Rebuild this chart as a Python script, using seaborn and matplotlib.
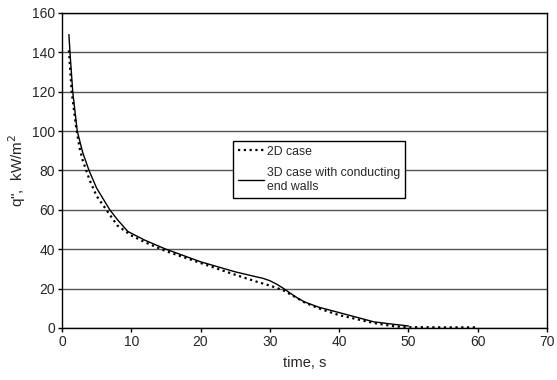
import matplotlib
matplotlib.use("Agg")
import matplotlib.pyplot as plt
from matplotlib.lines import Line2D
import seaborn as sns
import pandas as pd

# Heat flux decay, 2D model
t_2d = [1, 1.4, 2, 2.5, 3, 4, 5, 6.4, 8, 10, 12, 15, 20, 25, 28, 30, 31, 32, 33, 34, 35, 37, 40, 45, 48, 50, 55, 60]
q_2d = [141, 120, 103, 92, 85, 75, 67, 60, 52, 47, 43.5, 39, 33, 27, 23.6, 21.5, 20.3, 19, 17, 15, 13, 10, 6.5, 2.5, 0.8, 0.4, 0.3, 0.3]

# Heat flux decay, 3D model with conducting end walls
t_3d = [1, 1.15, 1.55, 2.2, 3, 3.9, 5, 6.9, 8, 9.5, 12, 15, 20, 25, 28, 29, 30, 31, 32, 33, 34, 35, 37, 40, 45, 48, 50]
q_3d = [149, 140, 120, 100, 89, 80, 71, 60, 55, 49, 44.5, 40, 33.6, 28.5, 26, 25.2, 24, 22.2, 20, 17.5, 15.2, 13.2, 10.6, 7.8, 3.1, 1.8, 1.0]

labels = ["2D case", "3D case with conducting\nend walls"]

df = pd.concat([
    pd.DataFrame({"time": t_2d, "q": q_2d, "case": labels[0]}),
    pd.DataFrame({"time": t_3d, "q": q_3d, "case": labels[1]}),
])

sns.set_theme(style="white")
plt.rcParams["font.family"] = ["Liberation Sans", "DejaVu Sans"]

fig = plt.figure(figsize=(5.57, 3.80), dpi=100)
ax = fig.add_axes([0.1113, 0.137, 0.8707, 0.829])

sns.lineplot(data=df, x="time", y="q", hue="case", style="case",
             palette=["black", "black"],
             dashes={labels[0]: (1, 1.6), labels[1]: ""},
             sort=False, ax=ax, legend=False)
lines = ax.get_lines()
lines[0].set_linewidth(1.6)
lines[0].set_dash_capstyle("butt")
lines[1].set_linewidth(1.0)

ax.set_xlim(0, 70)
ax.set_ylim(0, 160)
ax.set_xticks(range(0, 71, 10))
ax.set_yticks(range(0, 161, 20))
ax.yaxis.grid(True, color="#555555", linewidth=1.0)
ax.set_axisbelow(True)
for s in ax.spines.values():
    s.set_color("black")
    s.set_linewidth(1.0)

ax.tick_params(axis="both", direction="out", length=3, width=1, color="black",
               labelsize=10, pad=2, bottom=True, left=True)
ax.set_xlabel("time, s", fontsize=10.5, labelpad=5)
ax.set_ylabel('q",  kW/m$^2$', fontsize=11, labelpad=3)

handles = [Line2D([], [], color="black", lw=1.6, linestyle=(0, (1, 1.6))),
           Line2D([], [], color="black", lw=1.0)]
leg = ax.legend(handles, labels, loc="upper left", bbox_to_anchor=(0.353, 0.594),
                borderaxespad=0, fontsize=8.8, frameon=True, fancybox=False,
                edgecolor="black", framealpha=1, handlelength=2.1,
                handletextpad=0.25, borderpad=0.4, labelspacing=0.75)
leg.get_frame().set_linewidth(1.0)

fig.savefig("out.png", dpi=100)
